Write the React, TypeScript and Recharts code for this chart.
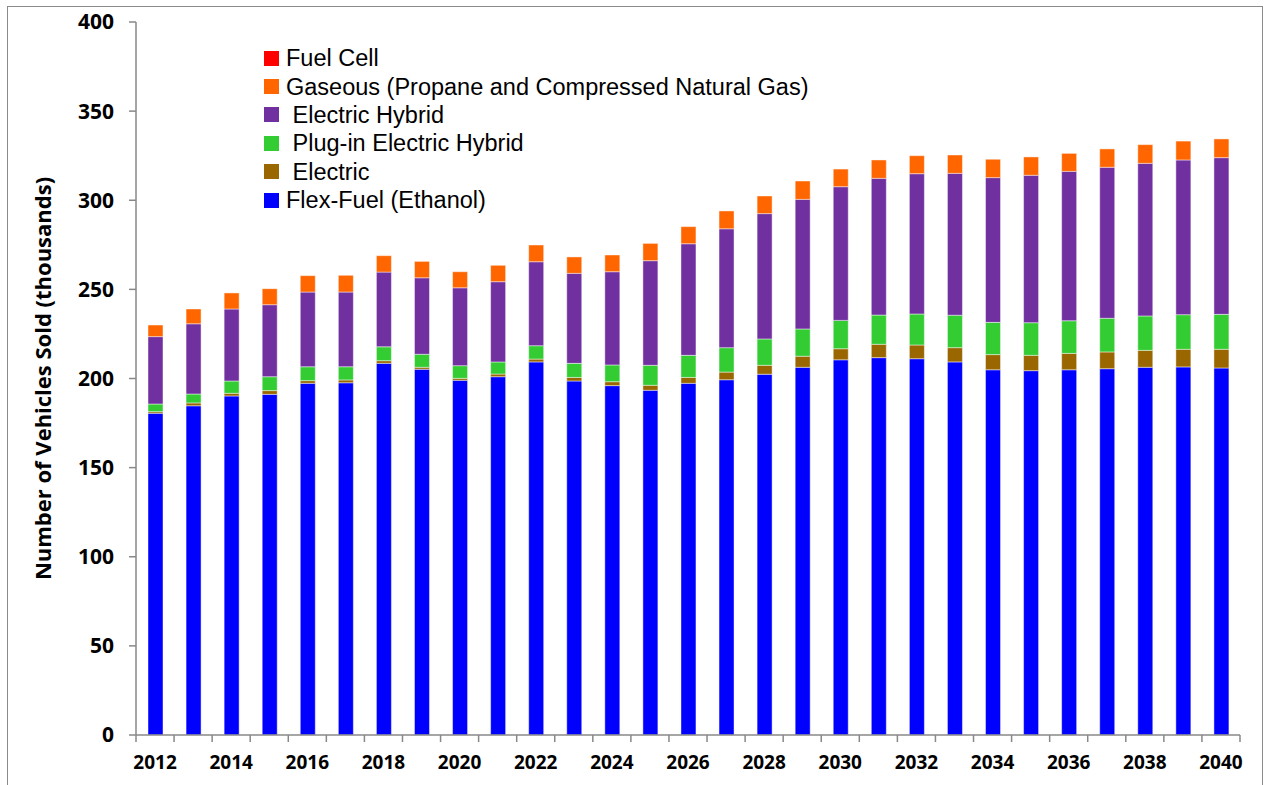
import React from 'react';
import { BarChart, Bar, XAxis, YAxis, Legend } from 'recharts';

const years = ['2012','2013','2014','2015','2016','2017','2018','2019','2020','2021','2022','2023','2024','2025','2026','2027','2028','2029','2030','2031','2032','2033','2034','2035','2036','2037','2038','2039','2040'];
const flexFuel = [180.5,184.7,190.2,191.1,197.3,197.6,208.5,205.2,199.0,201.0,209.3,198.6,196.0,193.4,197.3,199.3,202.4,206.3,210.5,211.7,211.1,209.3,204.9,204.4,204.9,205.5,206.3,206.5,205.9];
const electric = [0.9,1.6,1.5,2.1,1.5,1.6,1.5,1.1,1.1,1.5,1.6,2.0,2.2,2.8,3.3,4.3,5.0,6.2,6.2,7.5,7.7,8.0,8.5,8.6,9.2,9.4,9.5,9.9,10.5];
const plugIn = [4.3,5.0,6.9,7.8,7.8,7.4,7.8,7.3,7.1,6.8,7.5,7.9,9.4,11.2,12.4,13.7,14.8,15.3,15.9,16.4,17.4,18.2,18.1,18.3,18.3,18.9,19.3,19.4,19.6];
const hybrid = [37.8,39.4,40.4,40.4,41.9,41.9,41.9,42.9,43.7,45.0,47.1,50.5,52.3,58.7,62.6,66.7,70.3,72.7,75.0,76.7,78.7,79.6,81.2,82.7,83.8,84.7,85.6,86.8,87.9];
const gaseous = [6.5,8.3,9.0,9.0,9.2,9.4,9.2,9.2,9.0,9.2,9.4,9.2,9.4,9.7,9.6,10.0,9.9,10.3,9.9,10.3,10.1,10.3,10.3,10.3,10.1,10.3,10.5,10.6,10.5];
const fuelCell = [0,0,0,0,0,0,0,0,0,0,0,0,0,0,0,0,0,0,0,0,0,0,0,0,0,0,0,0,0];
const yTicks = [0,50,100,150,200,250,300,350,400];

const series = [
  { key: 'flex', name: 'Flex-Fuel (Ethanol)', color: '#0000FF', values: flexFuel },
  { key: 'elec', name: ' Electric', color: '#996600', values: electric },
  { key: 'plug', name: ' Plug-in Electric Hybrid', color: '#33CC33', values: plugIn },
  { key: 'hyb', name: ' Electric Hybrid', color: '#7030A0', values: hybrid },
  { key: 'gas', name: 'Gaseous (Propane and Compressed Natural Gas)', color: '#FF6600', values: gaseous },
  { key: 'fc', name: 'Fuel Cell', color: '#FF0000', values: fuelCell },
];

const data = years.map((y, i) => {
  const row: any = { year: y };
  series.forEach((s) => { row[s.key] = s.values[i]; });
  return row;
});

const FONT = '"Open Sans", "Liberation Sans", sans-serif';
const LEGEND_FONT = '"Liberation Sans", Arial, sans-serif';
const AXIS = '#888888';

const XTick = (props: any) => {
  const { x, y, payload, index, visibleTicksCount, width } = props;
  const half = payload && payload.offset ? payload.offset : width / visibleTicksCount / 2;
  const yr = parseInt(payload.value, 10);
  return (
    <g>
      <line x1={x - half} x2={x - half} y1={y} y2={y + 7} stroke={AXIS} strokeWidth={1.5} />
      {index === visibleTicksCount - 1 && (
        <line x1={x + half} x2={x + half} y1={y} y2={y + 7} stroke={AXIS} strokeWidth={1.5} />
      )}
      {yr % 2 === 0 && (
        <text x={x} y={y + 34} textAnchor="middle" fontFamily={FONT} fontWeight="bold" fontSize={19} fill="#000">
          {payload.value}
        </text>
      )}
    </g>
  );
};

const LegendContent = (props: any) => {
  const payload = props.payload || [];
  const items = [...series].reverse().map((s) => {
    const p = payload.find((q: any) => q.dataKey === s.key);
    return { value: p ? p.value : s.name, color: p ? p.color : s.color };
  });
  return (
    <div style={{ fontFamily: LEGEND_FONT, fontSize: 23.5, lineHeight: '26px', color: '#000' }}>
      {items.map((it: any) => (
        <div key={it.value} style={{ height: 28.4, display: 'flex', alignItems: 'center', whiteSpace: 'pre' }}>
          <span style={{ display: 'inline-block', width: 15, height: 15, background: it.color, marginRight: 7 }} />
          <span style={{ lineHeight: '26px' }}>{it.value}</span>
        </div>
      ))}
    </div>
  );
};

const YLabel = () => {
  const cy = 15 + 713 / 2;
  return (
    <text x={34} y={cy} transform={`rotate(-90, 34, ${cy})`} textAnchor="middle" dominantBaseline="central"
      fontFamily={FONT} fontWeight="bold" fontSize={22} fill="#000">
      Number of Vehicles Sold (thousands)
    </text>
  );
};

export default function App() {
  return (
    <div style={{ position: 'absolute', left: 7, top: 6, width: 1256, height: 790, boxSizing: 'border-box', border: '1.5px solid #8a8a8a', background: '#fff' }}>
      <BarChart width={1253} height={778} data={data} margin={{ top: 15, right: 21, left: 0, bottom: 10 }} barSize={15}>
        <XAxis dataKey="year" interval={0} tickLine={false} tickSize={0} tickMargin={0} axisLine={{ stroke: AXIS, strokeWidth: 1.5 }} height={40} tick={<XTick />} />
        <YAxis domain={[0, 400]} ticks={yTicks} width={128} interval={0} tickSize={7} tickMargin={15}
          axisLine={{ stroke: AXIS, strokeWidth: 1.5 }} tickLine={{ stroke: AXIS, strokeWidth: 1.5 }}
          tick={{ fontFamily: FONT, fontWeight: 'bold', fontSize: 21, fill: '#000' }}
          label={{ content: <YLabel /> }} />
        <Legend layout="horizontal" verticalAlign="middle" align="center" content={<LegendContent />}
          wrapperStyle={{ left: 256, top: 37, width: 'auto' }} />
        {series.map((s) => (
          <Bar key={s.key} dataKey={s.key} name={s.name} stackId="a" fill={s.color} stroke="rgba(255,255,255,0.45)" strokeWidth={1} isAnimationActive={false} />
        ))}
      </BarChart>
    </div>
  );
}
